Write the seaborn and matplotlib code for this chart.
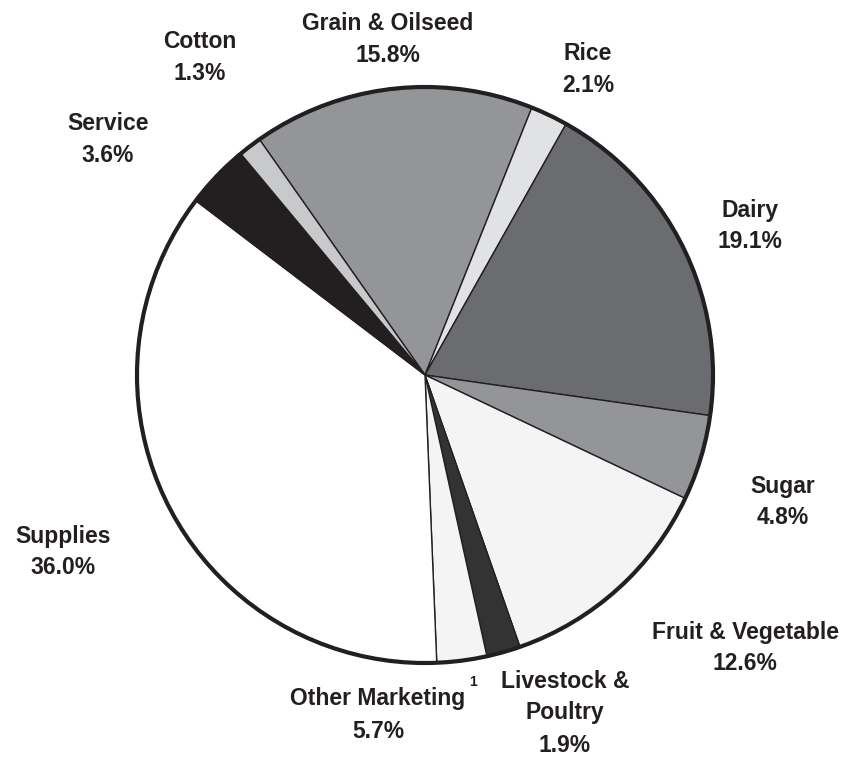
import matplotlib
matplotlib.use("Agg")
import matplotlib.pyplot as plt
import seaborn as sns
from matplotlib.patches import Circle

# categories, clockwise from the Grain & Oilseed slice
categories = ['Grain & Oilseed', 'Rice', 'Dairy', 'Sugar', 'Fruit & Vegetable',
              'Livestock &\nPoultry', 'Other Marketing', 'Supplies', 'Service', 'Cotton']
pct_labels = [15.8, 2.1, 19.1, 4.8, 12.6, 1.9, 5.7, 36.0, 3.6, 1.3]
# slice sizes as drawn in the original (Other Marketing wedge is drawn smaller)
slice_sizes = [15.8, 2.1, 19.1, 4.8, 12.6, 1.9, 2.8, 36.0, 3.6, 1.3]
colors = ['#939598', '#e1e2e4', '#6b6c70', '#939598', '#f4f4f4',
          '#333333', '#f4f4f4', '#ffffff', '#231f20', '#c8c9cb']

sns.set_style("white")
plt.rcParams['font.family'] = ['Liberation Sans', 'DejaVu Sans']

W, H = 849, 759
fig = plt.figure(figsize=(W / 100, H / 100), dpi=100)
ax = fig.add_axes([0, 0, 1, 1])
ax.axis('off')

cx, cy, r = 425, 375, 288

ax.pie(slice_sizes, colors=colors, startangle=125.1, counterclock=False,
       radius=1, center=(0, 0), normalize=True,
       wedgeprops=dict(edgecolor='#231f20', linewidth=1.0))
ax.add_patch(Circle((0, 0), 1, fill=False, edgecolor='#231f20', linewidth=3, zorder=5))
ax.set_xlim(-cx / r, (W - cx) / r)
ax.set_ylim(-(H - cy) / r, cy / r)
ax.set_aspect('auto')

# label positions in pixels (center of text block)
label_pos = {
    'Grain & Oilseed': (388, 40),
    'Rice': (588, 69),
    'Dairy': (750, 226),
    'Sugar': (783, 502),
    'Fruit & Vegetable': (745, 648),
    'Livestock &\nPoultry': (565, 713),
    'Other Marketing': (378, 715),
    'Supplies': (63, 552),
    'Service': (108, 139),
    'Cotton': (200, 58),
}

txt_color = '#231f20'
for cat, pct in zip(categories, pct_labels):
    px, py = label_pos[cat]
    fig.text(px / W, 1 - py / H, f'{cat}\n{pct:.1f}%', ha='center', va='center',
             fontsize=16.5, fontweight='bold', color=txt_color, linespacing=1.5)

fig.text(473 / W, 1 - 682 / H, '1', ha='center', va='center',
         fontsize=10, fontweight='bold', color=txt_color)

fig.savefig('out.png', dpi=100, facecolor='white')
